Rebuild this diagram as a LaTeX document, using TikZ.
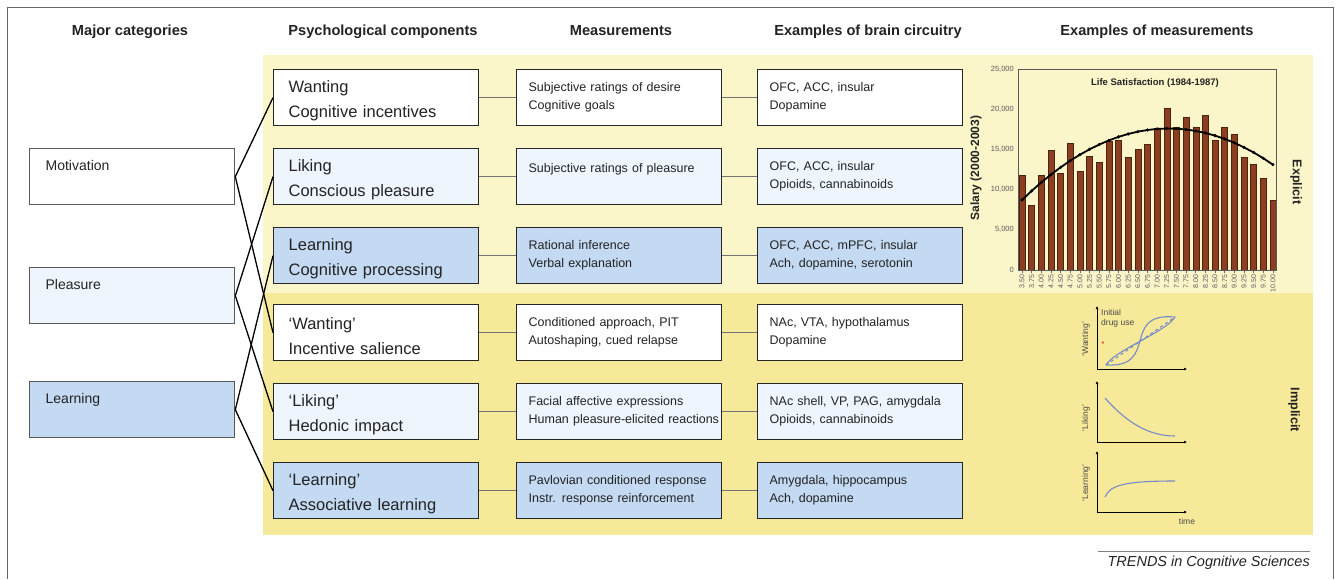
\documentclass[tikz,border=0pt]{standalone}
\usepackage{fontspec}
\setmainfont{Liberation Sans}
\usetikzlibrary{arrows.meta}

\definecolor{paleblue}{RGB}{238,245,253}
\definecolor{midblue}{RGB}{196,217,242}
\definecolor{topyellow}{RGB}{251,246,202}
\definecolor{lowyellow}{RGB}{247,233,154}
\definecolor{barbrown}{RGB}{139,62,32}
\definecolor{curveblue}{RGB}{118,138,200}
\definecolor{inkgray}{RGB}{35,35,35}

\tikzset{
  boxbase/.style={draw=black!85, line width=1.3pt, anchor=north west, minimum height=56pt,
    inner ysep=0pt, align=left, text=inkgray},
  catbox/.style={boxbase, draw=black!65, text width=173pt, inner xsep=16pt, font=\fontsize{14}{22}\selectfont},
  psybox/.style={boxbase, text width=175pt, inner xsep=15pt, font=\fontsize{16.5}{25}\selectfont,
    execute at begin node={\rule{0pt}{18pt}}},
  measbox/.style={boxbase, text width=181pt, inner xsep=12pt, font=\fontsize{12.5}{18}\selectfont},
  head/.style={font=\bfseries\fontsize{14.6}{17}\selectfont, anchor=base, text=inkgray},
  cross/.style={line width=1.3pt, black},
  link/.style={line width=1.2pt, black!55},
  ytick/.style={font=\fontsize{7.5}{9}\selectfont, text=black!65, anchor=east, inner sep=1pt},
  xtick/.style={font=\fontsize{7}{8}\selectfont, text=black!65, anchor=east, inner sep=1pt, rotate=90},
  small/.style={font=\fontsize{8.5}{10}\selectfont, text=black!70, inner sep=1pt},
  axisline/.style={line width=1pt, -{Latex[length=3pt,width=3pt]}},
  trend/.style={curveblue, line width=1.1pt},
}

\begin{document}
\begin{tikzpicture}[x=1pt,y=-1pt]
  \useasboundingbox (0,0) rectangle (1336,579);
  \draw[black!60, line width=0.8pt] (7,579) -- (7,7) -- (1333,7) -- (1333,579);

  % backgrounds
  \fill[topyellow] (263,55) rectangle (1313,293);
  \fill[lowyellow] (263,293) rectangle (1313,535);

  % column headings
  \node[head] (hCat)   at (130,35)  {Major categories};
  \node[head] (hPsy)   at (383,35)  {Psychological components};
  \node[head] (hMeas)  at (621,35)  {Measurements};
  \node[head] (hBrain) at (868,35)  {Examples of brain circuitry};
  \node[head] (hEx)    at (1157,35) {Examples of measurements};

  % major categories
  \node[catbox] (cMot) at (29,148) {Motivation\\\mbox{}};
  \node[catbox, fill=paleblue] (cPle) at (29,267) {Pleasure\\\mbox{}};
  \node[catbox, fill=midblue] (cLea) at (29,381) {Learning\\\mbox{}};

  % psychological components
  \node[psybox, fill=white]    (pWant)   at (273,69)  {Wanting\\Cognitive incentives};
  \node[psybox, fill=paleblue] (pLike)   at (273,148) {Liking\\Conscious pleasure};
  \node[psybox, fill=midblue]  (pLearn)  at (273,227) {Learning\\Cognitive processing};
  \node[psybox, fill=white]    (pWantI)  at (273,304) {`Wanting'\\Incentive salience};
  \node[psybox, fill=paleblue] (pLikeI)  at (273,383) {`Liking'\\Hedonic impact};
  \node[psybox, fill=midblue]  (pLearnI) at (273,462) {`Learning'\\Associative learning};

  % measurements
  \node[measbox, fill=white]    (mWant)   at (516,69)  {Subjective ratings of desire\\Cognitive goals};
  \node[measbox, fill=paleblue] (mLike)   at (516,148) {Subjective ratings of pleasure\\\mbox{}};
  \node[measbox, fill=midblue]  (mLearn)  at (516,227) {Rational inference\\Verbal explanation};
  \node[measbox, fill=white]    (mWantI)  at (516,304) {Conditioned approach, PIT\\Autoshaping, cued relapse};
  \node[measbox, fill=paleblue] (mLikeI)  at (516,383) {Facial affective expressions\\\mbox{Human pleasure-elicited reactions}};
  \node[measbox, fill=midblue]  (mLearnI) at (516,462) {Pavlovian conditioned response\\Instr. response reinforcement};

  % brain circuitry
  \node[measbox, fill=white]    (bWant)   at (757,69)  {OFC, ACC, insular\\Dopamine};
  \node[measbox, fill=paleblue] (bLike)   at (757,148) {OFC, ACC, insular\\Opioids, cannabinoids};
  \node[measbox, fill=midblue]  (bLearn)  at (757,227) {OFC, ACC, mPFC, insular\\Ach, dopamine, serotonin};
  \node[measbox, fill=white]    (bWantI)  at (757,304) {NAc, VTA, hypothalamus\\Dopamine};
  \node[measbox, fill=paleblue] (bLikeI)  at (757,383) {NAc shell, VP, PAG, amygdala\\Opioids, cannabinoids};
  \node[measbox, fill=midblue]  (bLearnI) at (757,462) {Amygdala, hippocampus\\Ach, dopamine};

  % category to component
  \draw[cross] (cMot.east) -- (pWant.west)  (cMot.east) -- (pWantI.west);
  \draw[cross] (cPle.east) -- (pLike.west)  (cPle.east) -- (pLikeI.west);
  \draw[cross] (cLea.east) -- (pLearn.west) (cLea.east) -- (pLearnI.west);

  % rows
  \draw[link] (pWant.east) -- (mWant.west) (mWant.east) -- (bWant.west);
  \draw[link] (pLike.east) -- (mLike.west) (mLike.east) -- (bLike.west);
  \draw[link] (pLearn.east) -- (mLearn.west) (mLearn.east) -- (bLearn.west);
  \draw[link] (pWantI.east) -- (mWantI.west) (mWantI.east) -- (bWantI.west);
  \draw[link] (pLikeI.east) -- (mLikeI.west) (mLikeI.east) -- (bLikeI.west);
  \draw[link] (pLearnI.east) -- (mLearnI.west) (mLearnI.east) -- (bLearnI.west);

  % salary chart
  \def\barzero{1022}
  \def\barstep{9.65}
  \def\chartbase{270}
  \def\chartscale{8.04}
  \foreach \v [count=\i from 0] in {11.8,8.0,11.8,14.9,12.1,15.8,12.3,14.2,13.4,16.0,16.1,14.0,15.0,15.6,
      17.6,20.1,17.8,19.0,17.8,19.2,16.1,17.7,16.9,14.0,13.1,11.4,8.7} {
    \draw[fill=barbrown, draw=barbrown!55!black, line width=0.4pt]
      ({\barzero+\i*\barstep-3},\chartbase) rectangle ({\barzero+\i*\barstep+3},{\chartbase-\v*\chartscale});
    \draw[black!60, line width=0.5pt] ({\barzero+\i*\barstep},\chartbase) -- ({\barzero+\i*\barstep},{\chartbase+2.5});
  }
  \draw[black!65, line width=0.7pt] (1018,69) rectangle (1276,270);
  \foreach \t [count=\k from 0] in {0,{5,000},{10,000},{15,000},{20,000},{25,000}}
    \node[ytick] (yl\k) at (1015,{\chartbase-\k*40.2}) {\t};
  \foreach \t [count=\i from 0] in {3.50,3.75,4.00,4.25,4.50,4.75,5.00,5.25,5.50,5.75,6.00,6.25,6.50,6.75,
      7.00,7.25,7.50,7.75,8.00,8.25,8.50,8.75,9.00,9.25,9.50,9.75,10.00}
    \node[xtick] (xl\i) at ({\barzero+\i*\barstep},273.5) {\t};
  \draw[black, line width=1.8pt, mark options={line width=0.4pt}]
    plot[domain=3.5:10, samples=27, mark=*, mark size=1.4pt]
    ({\barzero+(\x-3.5)*4*\barstep}, {\chartbase-\chartscale*(17.6-0.616*(\x-7.3)^2)});
  \node[font=\bfseries\fontsize{9.5}{11}\selectfont, text=inkgray] (lifeSat) at (1155,83) {Life Satisfaction (1984-1987)};
  \node[font=\bfseries\fontsize{12}{14}\selectfont, text=inkgray, rotate=90] (salary) at (976,168) {Salary (2000-2003)};
  \node[font=\bfseries\fontsize{12.6}{15}\selectfont, text=inkgray, rotate=-90] (explicit) at (1296,182) {Explicit};
  \node[font=\bfseries\fontsize{12.6}{15}\selectfont, text=inkgray, rotate=-90] (implicit) at (1294,410) {Implicit};

  % implicit sketches
  \draw[axisline] (1097,369) -- (1097,306);
  \draw[axisline] (1097,369) -- (1187,369);
  \draw[trend, dashed] (1106,365) -- (1175,317);
  \draw[trend] (1106,365) .. controls (1160,368) and (1120,312) .. (1175,317);
  \draw[trend] (1106,365) .. controls (1115,350) and (1166,332) .. (1175,317);
  \node[small, anchor=base west, align=left] (initial) at (1100,325) {Initial\\drug use};
  \node[text=red!80!black, font=\fontsize{7}{8}\selectfont, inner sep=0pt] (star) at (1103,344) {*};
  \node[small, rotate=90] (lWant) at (1086,339) {`Wanting'};

  \draw[axisline] (1097,442) -- (1097,381);
  \draw[axisline] (1097,442) -- (1187,442);
  \draw[trend] (1105,398) .. controls (1128,424) and (1150,436) .. (1175,436);
  \node[small, rotate=90] (lLike) at (1086,418) {`Liking'};

  \draw[axisline] (1097,512) -- (1097,451);
  \draw[axisline] (1097,512) -- (1187,512);
  \draw[trend] (1105,497) .. controls (1110,485) and (1125,481) .. (1175,481);
  \node[small, rotate=90] (lLearn) at (1086,483) {`Learning'};
  \node[small] (time) at (1187,521) {time};

  % journal tag
  \draw[black!50, line width=0.8pt] (1098,551) -- (1310,551);
  \node[font=\itshape\fontsize{14.5}{17}\selectfont, text=inkgray, anchor=base east, inner sep=0pt] (trends) at (1310,566) {TRENDS in Cognitive Sciences};
\end{tikzpicture}
\end{document}
